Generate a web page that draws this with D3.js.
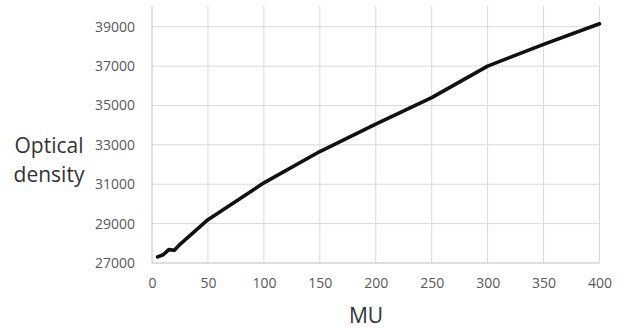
<!DOCTYPE html>
<html>
<head>
<meta charset="utf-8">
<script src="https://cdn.jsdelivr.net/npm/d3@7"></script>
<style>
    html, body { margin: 0; padding: 0; background: #fff; }
    svg { display: block; font-family: "Open Sans", sans-serif; }
</style>
</head>
<body>
<div id="chart"></div>
<script>
// data
const mu = [5, 10, 15, 20, 25, 50, 100, 150, 200, 250, 300, 350, 400];
const density = [27310, 27420, 27680, 27650, 27950, 29200, 31070, 32660, 34050, 35400, 37000, 38100, 39150];
const xTicks = [0, 50, 100, 150, 200, 250, 300, 350, 400];
const yTicks = [27000, 29000, 31000, 33000, 35000, 37000, 39000];

const width = 624, height = 328;
const plotTop = 6;

const svg = d3.select('#chart')
    .append('svg')
    .attr('width', width)
    .attr('height', height);

const x = d3.scaleLinear().domain([0, 400]).range([152, 599.5]);
const y = d3.scaleLinear().domain([27000, 39000]).range([263, 26.7]);

// vertical gridlines
svg.append('g')
    .selectAll('line')
    .data(xTicks.slice(1))
    .join('line')
    .attr('x1', d => x(d)).attr('x2', d => x(d))
    .attr('y1', plotTop).attr('y2', y(27000))
    .attr('stroke', '#d9d9d9')
    .attr('stroke-width', 1);

// horizontal gridlines
svg.append('g')
    .selectAll('line')
    .data(yTicks.slice(1))
    .join('line')
    .attr('x1', x(0)).attr('x2', x(400))
    .attr('y1', d => y(d)).attr('y2', d => y(d))
    .attr('stroke', '#d9d9d9')
    .attr('stroke-width', 1);

// y axis
const yAxis = svg.append('g')
    .attr('transform', `translate(${x(0)},0)`)
    .call(d3.axisLeft(y).tickValues(yTicks).tickSize(0).tickPadding(17).tickFormat(d3.format('d')));
yAxis.select('.domain').remove();
yAxis.append('line')
    .attr('y1', plotTop).attr('y2', y(27000))
    .attr('stroke', '#bfbfbf');

// x axis
const xAxis = svg.append('g')
    .attr('transform', `translate(0,${y(27000)})`)
    .call(d3.axisBottom(x).tickValues(xTicks).tickSize(0).tickPadding(15));
xAxis.select('.domain').remove();
xAxis.append('line')
    .attr('x1', x(0)).attr('x2', x(400))
    .attr('stroke', '#bfbfbf');

svg.selectAll('.tick text')
    .attr('fill', '#595959')
    .style('font-size', '14px')
    .style('font-family', '"Open Sans", sans-serif');

// the curve
const line = d3.line()
    .x((d, i) => x(mu[i]))
    .y(d => y(d));

svg.append('path')
    .datum(density)
    .attr('d', line)
    .attr('fill', 'none')
    .attr('stroke', '#111')
    .attr('stroke-width', 3.6)
    .attr('stroke-linejoin', 'round')
    .attr('stroke-linecap', 'round');

// axis titles
const yTitle = svg.append('text')
    .attr('text-anchor', 'middle')
    .attr('fill', '#333')
    .style('font-size', '21px');
yTitle.append('tspan').attr('x', 49).attr('y', 153).text('Optical');
yTitle.append('tspan').attr('x', 49).attr('y', 181.5).text('density');

svg.append('text')
    .attr('x', 366)
    .attr('y', 322.5)
    .attr('text-anchor', 'middle')
    .attr('fill', '#333')
    .style('font-size', '21px')
    .text('MU');
</script>
</body>
</html>
